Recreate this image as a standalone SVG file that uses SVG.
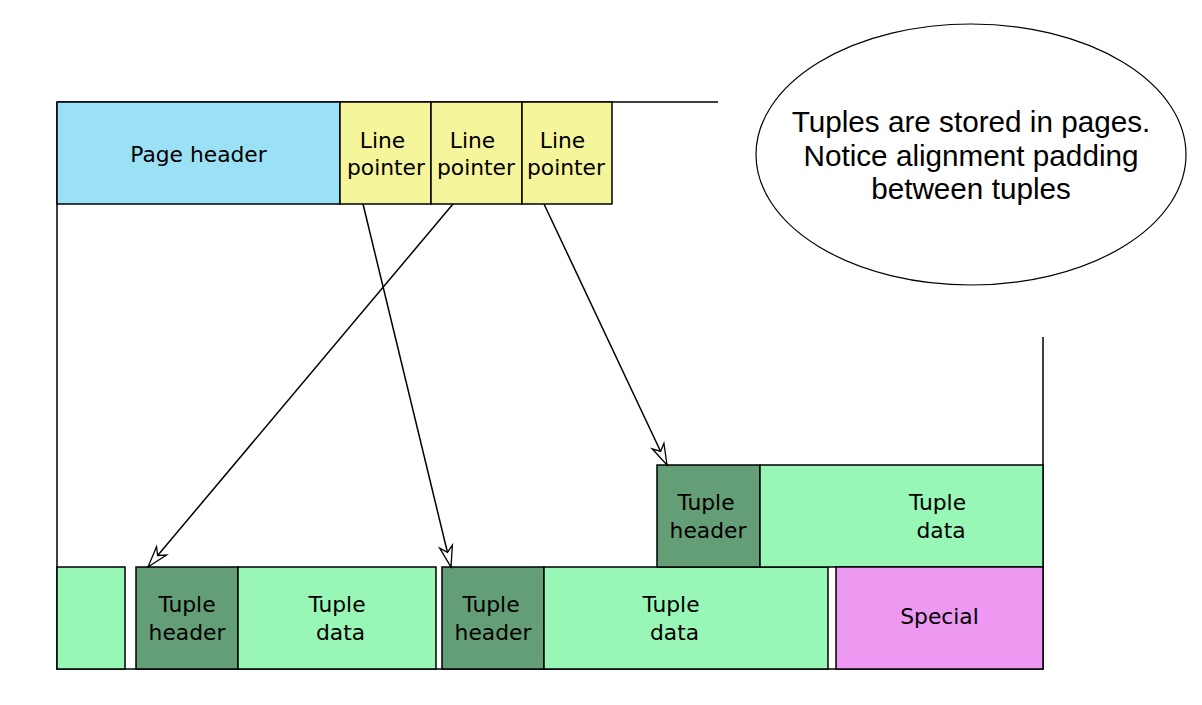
<svg xmlns="http://www.w3.org/2000/svg" width="1202" height="705" viewBox="0 0 1202 705">
<style>
.box{stroke:#000;stroke-width:1.5}
.ph{fill:#9be1f5}
.lp{fill:#f5f59b}
.th{fill:#639e76}
.td{fill:#98f6b7}
.sp{fill:#ed99f2}
.t{font-family:"DejaVu Sans",sans-serif;font-size:21.8px;fill:#000;text-anchor:middle}
.n{font-family:"Liberation Sans",Arial,sans-serif;font-size:29.7px;fill:#000;text-anchor:middle}
.ln{fill:none;stroke:#000;stroke-width:1.5}
</style>
<defs>
<marker id="arr" markerUnits="userSpaceOnUse" viewBox="-24 -9 26 18" refX="0" refY="0" markerWidth="26" markerHeight="18" orient="auto">
<path d="M0,0 L-21,-6.5 L-15,0 L-21,6.5 Z" fill="#fff" stroke="#000" stroke-width="1.3" stroke-linejoin="miter"/>
</marker>
</defs>
<rect width="1202" height="705" fill="#fff"/>
<g id="page-outline">
<path class="ln" d="M57,102 H718 M57,102 V669 H1043 V337"/>
</g>
<g id="page-header"><rect class="box ph" x="57" y="102" width="283" height="102"/><text class="t" x="198.5" y="162">Page header</text></g>
<g id="line-pointer-1"><rect class="box lp" x="340" y="102" width="91" height="102"/><text class="t" x="382.5" y="147.5">Line</text><text class="t" x="386" y="175">pointer</text></g>
<g id="line-pointer-2"><rect class="box lp" x="431" y="102" width="91" height="102"/><text class="t" x="472.5" y="147.5">Line</text><text class="t" x="476" y="175">pointer</text></g>
<g id="line-pointer-3"><rect class="box lp" x="522" y="102" width="90" height="102"/><text class="t" x="562.5" y="147.5">Line</text><text class="t" x="566" y="175">pointer</text></g>
<g id="note"><ellipse cx="971" cy="154.5" rx="215" ry="130.5" fill="#fff" stroke="#000" stroke-width="1.2"/>
<text class="n" x="971" y="132">Tuples are stored in pages.</text>
<text class="n" x="971" y="166">Notice alignment padding</text>
<text class="n" x="971" y="199">between tuples</text></g>
<g id="partial-tuple"><rect class="box td" x="57" y="567" width="68" height="102"/></g>
<g id="tuple-1"><rect class="box th" x="136" y="567" width="102" height="102"/><text class="t" x="187" y="612">Tuple</text><text class="t" x="187" y="640">header</text>
<rect class="box td" x="238" y="567" width="198" height="102"/><text class="t" x="337" y="612">Tuple</text><text class="t" x="340.5" y="640">data</text></g>
<g id="tuple-2"><rect class="box th" x="442" y="567" width="102" height="102"/><text class="t" x="491" y="612">Tuple</text><text class="t" x="493" y="640">header</text>
<rect class="box td" x="544" y="567" width="284" height="102"/><text class="t" x="671" y="612">Tuple</text><text class="t" x="674.5" y="640">data</text></g>
<g id="tuple-3"><rect class="box th" x="657" y="465" width="103" height="102"/><text class="t" x="706" y="510">Tuple</text><text class="t" x="708" y="538">header</text>
<rect class="box td" x="760" y="465" width="283" height="102"/><text class="t" x="937.5" y="510">Tuple</text><text class="t" x="941" y="538">data</text></g>
<g id="special"><rect class="box sp" x="836" y="567" width="207" height="102"/><text class="t" x="939.5" y="624">Special</text></g>
<g id="connectors">
<line class="ln" x1="363" y1="204" x2="451" y2="567" marker-end="url(#arr)"/>
<line class="ln" x1="453" y1="204" x2="148" y2="567" marker-end="url(#arr)"/>
<line class="ln" x1="544" y1="204" x2="667" y2="465" marker-end="url(#arr)"/>
</g>
</svg>
